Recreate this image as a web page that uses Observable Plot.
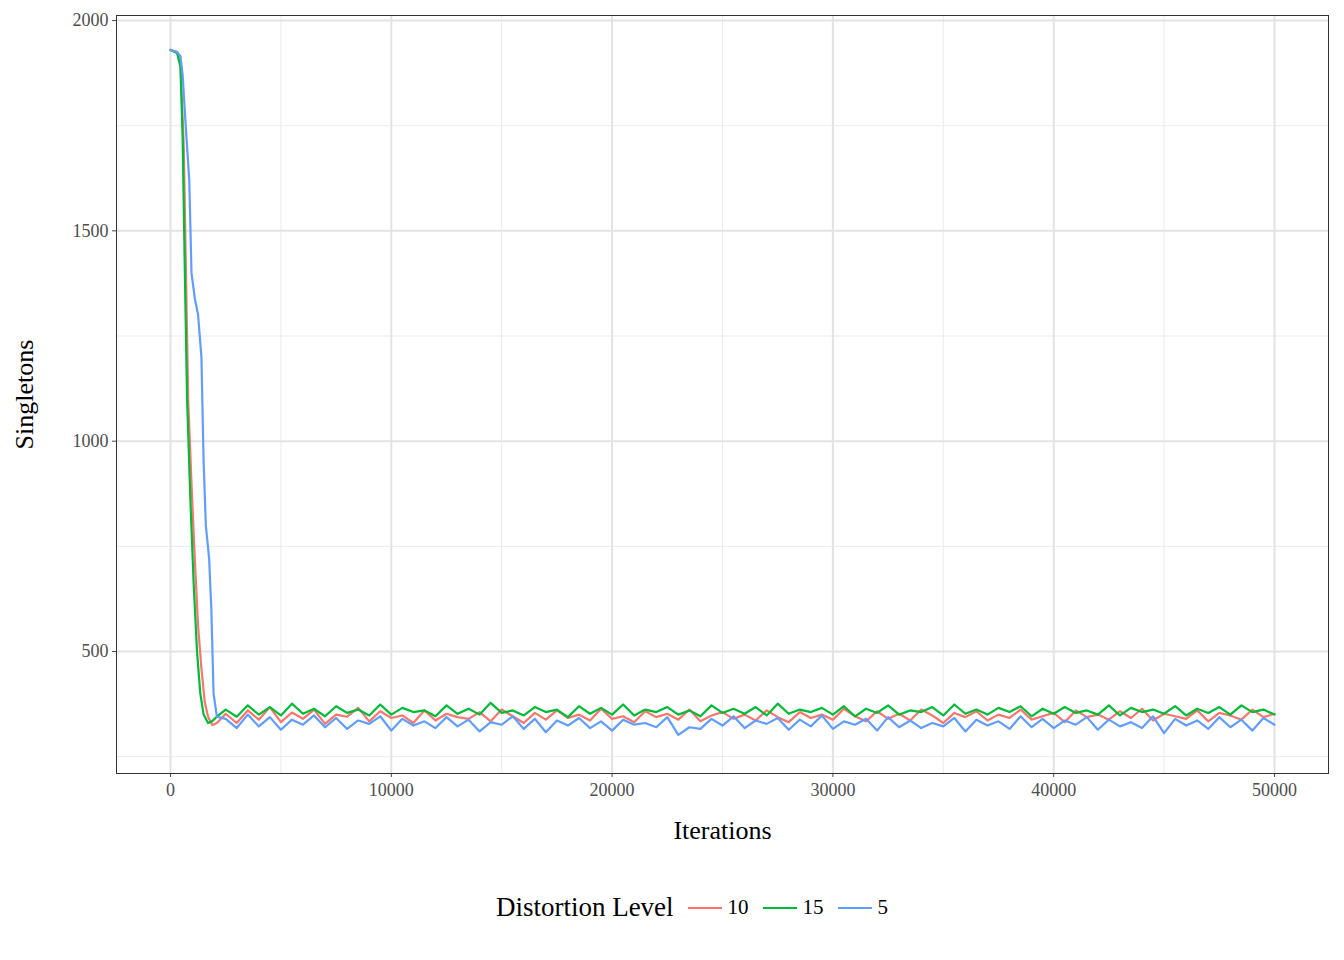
<!DOCTYPE html>
<html>
<head>
<script src="https://cdn.jsdelivr.net/npm/d3@7"></script>
<script src="https://cdn.jsdelivr.net/npm/@observablehq/plot@0.6"></script>
<style>
html, body { margin: 0; background: #fff; font-family: "Liberation Serif", serif; }
#legend { display: flex; justify-content: center; align-items: center; gap: 6px; font-size: 27px; margin-top: 32px; padding-left: 40px; }
#legend .item { display: flex; align-items: center; font-size: 21px; margin-left: 8px; }
#legend .sw { width: 34px; height: 2px; margin-right: 6px; }
</style>
</head>
<body>
<div id="plot"></div>
<div id="legend"><span>Distortion Level</span></div>
<script>
const levels = ["10", "15", "5"];
const colors = ["#F8766D", "#00BA38", "#619CFF"];

// descent phase: [iteration, singletons]
const early10 = [[0,1930],[300,1925],[450,1900],[600,1700],[700,1400],[800,1100],[950,900],[1100,720],[1250,560],[1400,460],[1550,380],[1700,345],[1900,325],[2100,330]];
const early15 = [[0,1930],[300,1922],[450,1890],[550,1720],[650,1400],[750,1100],[900,860],[1050,660],[1200,500],[1350,400],[1500,350],[1700,330],[1900,335],[2100,345]];
const early5 = [[0,1930],[300,1925],[450,1915],[550,1870],[700,1740],[850,1620],[950,1400],[1100,1340],[1250,1300],[1400,1200],[1500,950],[1600,800],[1750,720],[1850,600],[1950,400],[2100,345]];

// plateau, sampled every 500 iterations from 2500 to 50000
const plateauX = d3.range(2500, 50001, 500);
const plateau10 = [352,330,360,338,368,332,355,340,362,328,350,345,366,334,358,342,348,330,360,336,352,344,340,356,334,362,346,330,354,338,360,342,350,336,364,340,346,332,358,344,352,338,362,334,348,356,340,350,336,360,344,332,356,342,350,338,364,346,334,358,340,352,336,362,348,330,354,344,358,336,350,342,362,338,346,354,332,360,344,350,338,358,342,364,336,352,346,340,360,334,354,348,338,362,344,352];
const plateau15 = [362,345,372,350,368,348,376,352,364,346,370,354,362,348,374,350,366,356,360,346,372,352,364,350,378,354,360,348,368,356,362,344,370,352,366,350,374,348,362,356,368,350,360,346,372,354,364,352,368,348,376,352,362,356,366,350,370,346,364,354,372,350,360,356,368,348,374,352,362,350,366,356,370,346,364,352,368,354,360,350,372,348,366,356,362,352,370,348,364,354,368,350,372,356,362,350];
const plateau5 = [340,318,350,322,344,314,338,326,348,320,342,316,336,328,346,312,340,324,334,318,344,322,338,310,332,326,346,316,340,308,336,324,342,318,334,312,338,326,330,320,344,302,320,316,340,324,346,318,336,328,342,314,338,322,348,316,334,326,340,312,344,320,336,318,330,322,342,310,338,324,334,316,346,320,340,318,336,326,344,314,338,322,332,318,346,306,340,324,336,316,344,320,338,312,342,326];

const rows = [];
[[early10, plateau10], [early15, plateau15], [early5, plateau5]].forEach(([early, plateau], i) => {
  for (const [x, y] of early) rows.push({level: levels[i], x, y});
  plateau.forEach((y, j) => rows.push({level: levels[i], x: plateauX[j], y}));
});

const plot = Plot.plot({
  width: 1344, height: 860,
  marginLeft: 116, marginRight: 16, marginTop: 15, marginBottom: 87,
  style: {fontFamily: "Liberation Serif, serif", fontSize: "18px", color: "#4d4d4d"},
  x: {domain: [-2446, 52446], ticks: d3.range(0, 50001, 10000), tickFormat: d3.format("d"), tickSize: 4, tickPadding: 6, label: "Iterations", labelAnchor: "center", labelArrow: "none", labelOffset: 65},
  y: {domain: [210, 2012], ticks: [500, 1000, 1500, 2000], tickFormat: d3.format("d"), tickSize: 4, tickPadding: 4, label: "Singletons", labelAnchor: "center", labelArrow: "none", labelOffset: 102},
  color: {domain: levels, range: colors},
  marks: [
    Plot.gridX(d3.range(5000, 50001, 10000), {stroke: "#ebebeb", strokeOpacity: 1, strokeWidth: 1}),
    Plot.gridY([250, 750, 1250, 1750], {stroke: "#ebebeb", strokeOpacity: 1, strokeWidth: 1}),
    Plot.gridX(d3.range(0, 50001, 10000), {stroke: "#e3e3e3", strokeOpacity: 1, strokeWidth: 2}),
    Plot.gridY([500, 1000, 1500, 2000], {stroke: "#e3e3e3", strokeOpacity: 1, strokeWidth: 2}),
    Plot.line(rows, {x: "x", y: "y", z: "level", stroke: "level", strokeWidth: 2.2}),
    Plot.frame({stroke: "#333"})
  ]
});
plot.querySelectorAll('[aria-label="x-axis label"] text, [aria-label="y-axis label"] text').forEach(t => {
  t.style.fontSize = "26px"; t.style.fill = "#000";
});
document.getElementById("plot").append(plot);

const legend = document.getElementById("legend");
levels.forEach((l, i) => {
  const it = document.createElement("span");
  it.className = "item";
  it.innerHTML = `<span class="sw" style="background:${colors[i]}"></span>${l}`;
  legend.append(it);
});
</script>
</body>
</html>
